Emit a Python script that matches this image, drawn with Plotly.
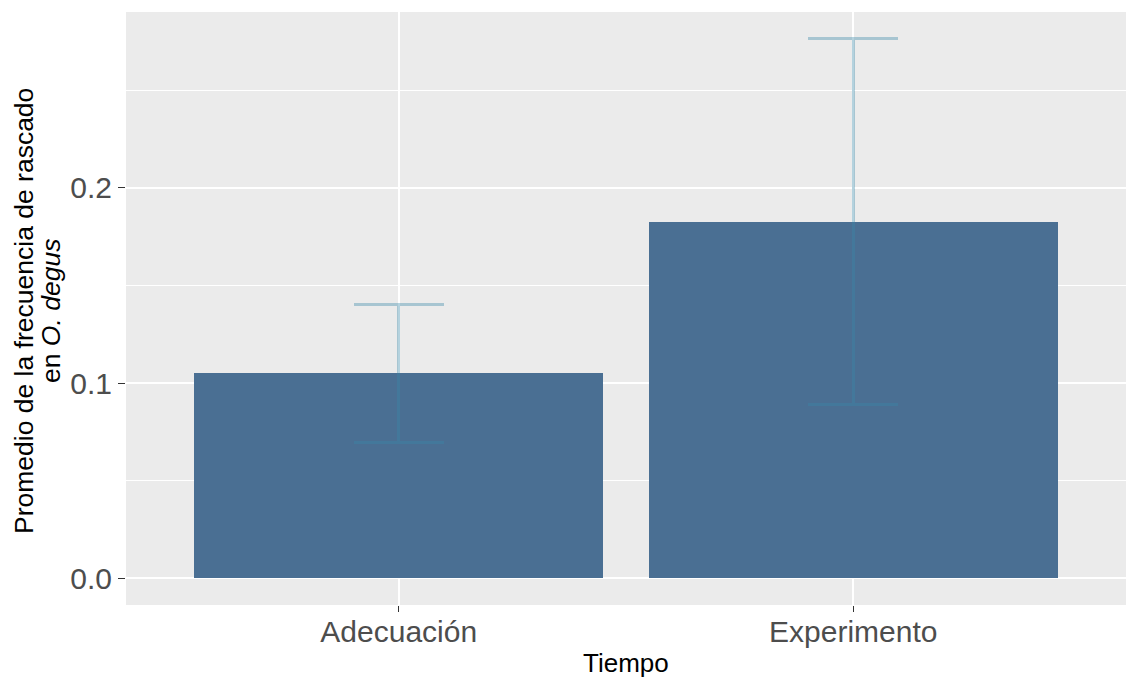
import plotly.graph_objects as go

# Mean scratching frequency per period, with error half-widths
tiempo = ["Adecuación", "Experimento"]
promedio = [0.105, 0.1826]
error = [0.0355, 0.0938]

y_top = max(p + e for p, e in zip(promedio, error))
pad = 0.05 * y_top

L, R, T, B = 126, 0, 12, 72
W, H = 1126, 677
plot_w = W - L - R
plot_h = H - T - B


def px_to_paper_x(px):
    return (px - L) / plot_w


def px_to_paper_y(py):
    return (H - B - py) / plot_h


fig = go.Figure()
fig.add_trace(go.Bar(
    x=tiempo,
    y=promedio,
    width=0.9,
    marker=dict(color="#4A6F93", line=dict(width=0)),
    error_y=dict(type="data", array=error, visible=True,
                 color="rgba(58,136,168,0.38)", thickness=3, width=45),
    showlegend=False,
))

fig.update_layout(
    width=W, height=H,
    margin=dict(l=L, r=R, t=T, b=B),
    paper_bgcolor="white",
    plot_bgcolor="#EBEBEB",
    font=dict(family="Liberation Sans, Arial, sans-serif"),
    bargap=0,
)

fig.update_xaxes(
    range=[-0.6, 1.6],
    showgrid=True, gridcolor="white", gridwidth=1.8,
    ticks="outside", ticklen=6, tickwidth=1.3, tickcolor="#333333",
    tickfont=dict(size=30, color="#4D4D4D"),
    ticklabelstandoff=-6,
    zeroline=False, showline=False,
)

fig.update_yaxes(
    range=[-pad, y_top + pad],
    tickvals=[0.0, 0.1, 0.2],
    ticktext=["0.0", "0.1", "0.2"],
    showgrid=True, gridcolor="white", gridwidth=1.8,
    minor=dict(tickvals=[0.05, 0.15, 0.25], showgrid=True,
               gridcolor="white", gridwidth=0.9, ticks=""),
    ticks="outside", ticklen=7, tickwidth=1.3, tickcolor="#333333",
    tickfont=dict(size=30, color="#4D4D4D"),
    zeroline=False, showline=False,
)

# x axis title
fig.add_annotation(
    text="Tiempo",
    xref="paper", yref="paper",
    x=0.5, y=px_to_paper_y(663),
    xanchor="center", yanchor="middle",
    showarrow=False,
    font=dict(size=26, color="black"),
)

# y axis title, two lines with tight spacing
fig.add_annotation(
    text="Promedio de la frecuencia de rascado",
    xref="paper", yref="paper",
    x=px_to_paper_x(24), y=px_to_paper_y(311),
    xanchor="center", yanchor="middle",
    textangle=-90, showarrow=False,
    font=dict(size=26.5, color="black"),
)
fig.add_annotation(
    text="en <i>O. degus</i>",
    xref="paper", yref="paper",
    x=px_to_paper_x(51), y=px_to_paper_y(311),
    xanchor="center", yanchor="middle",
    textangle=-90, showarrow=False,
    font=dict(size=26.5, color="black"),
)

fig.write_html("out.html")
